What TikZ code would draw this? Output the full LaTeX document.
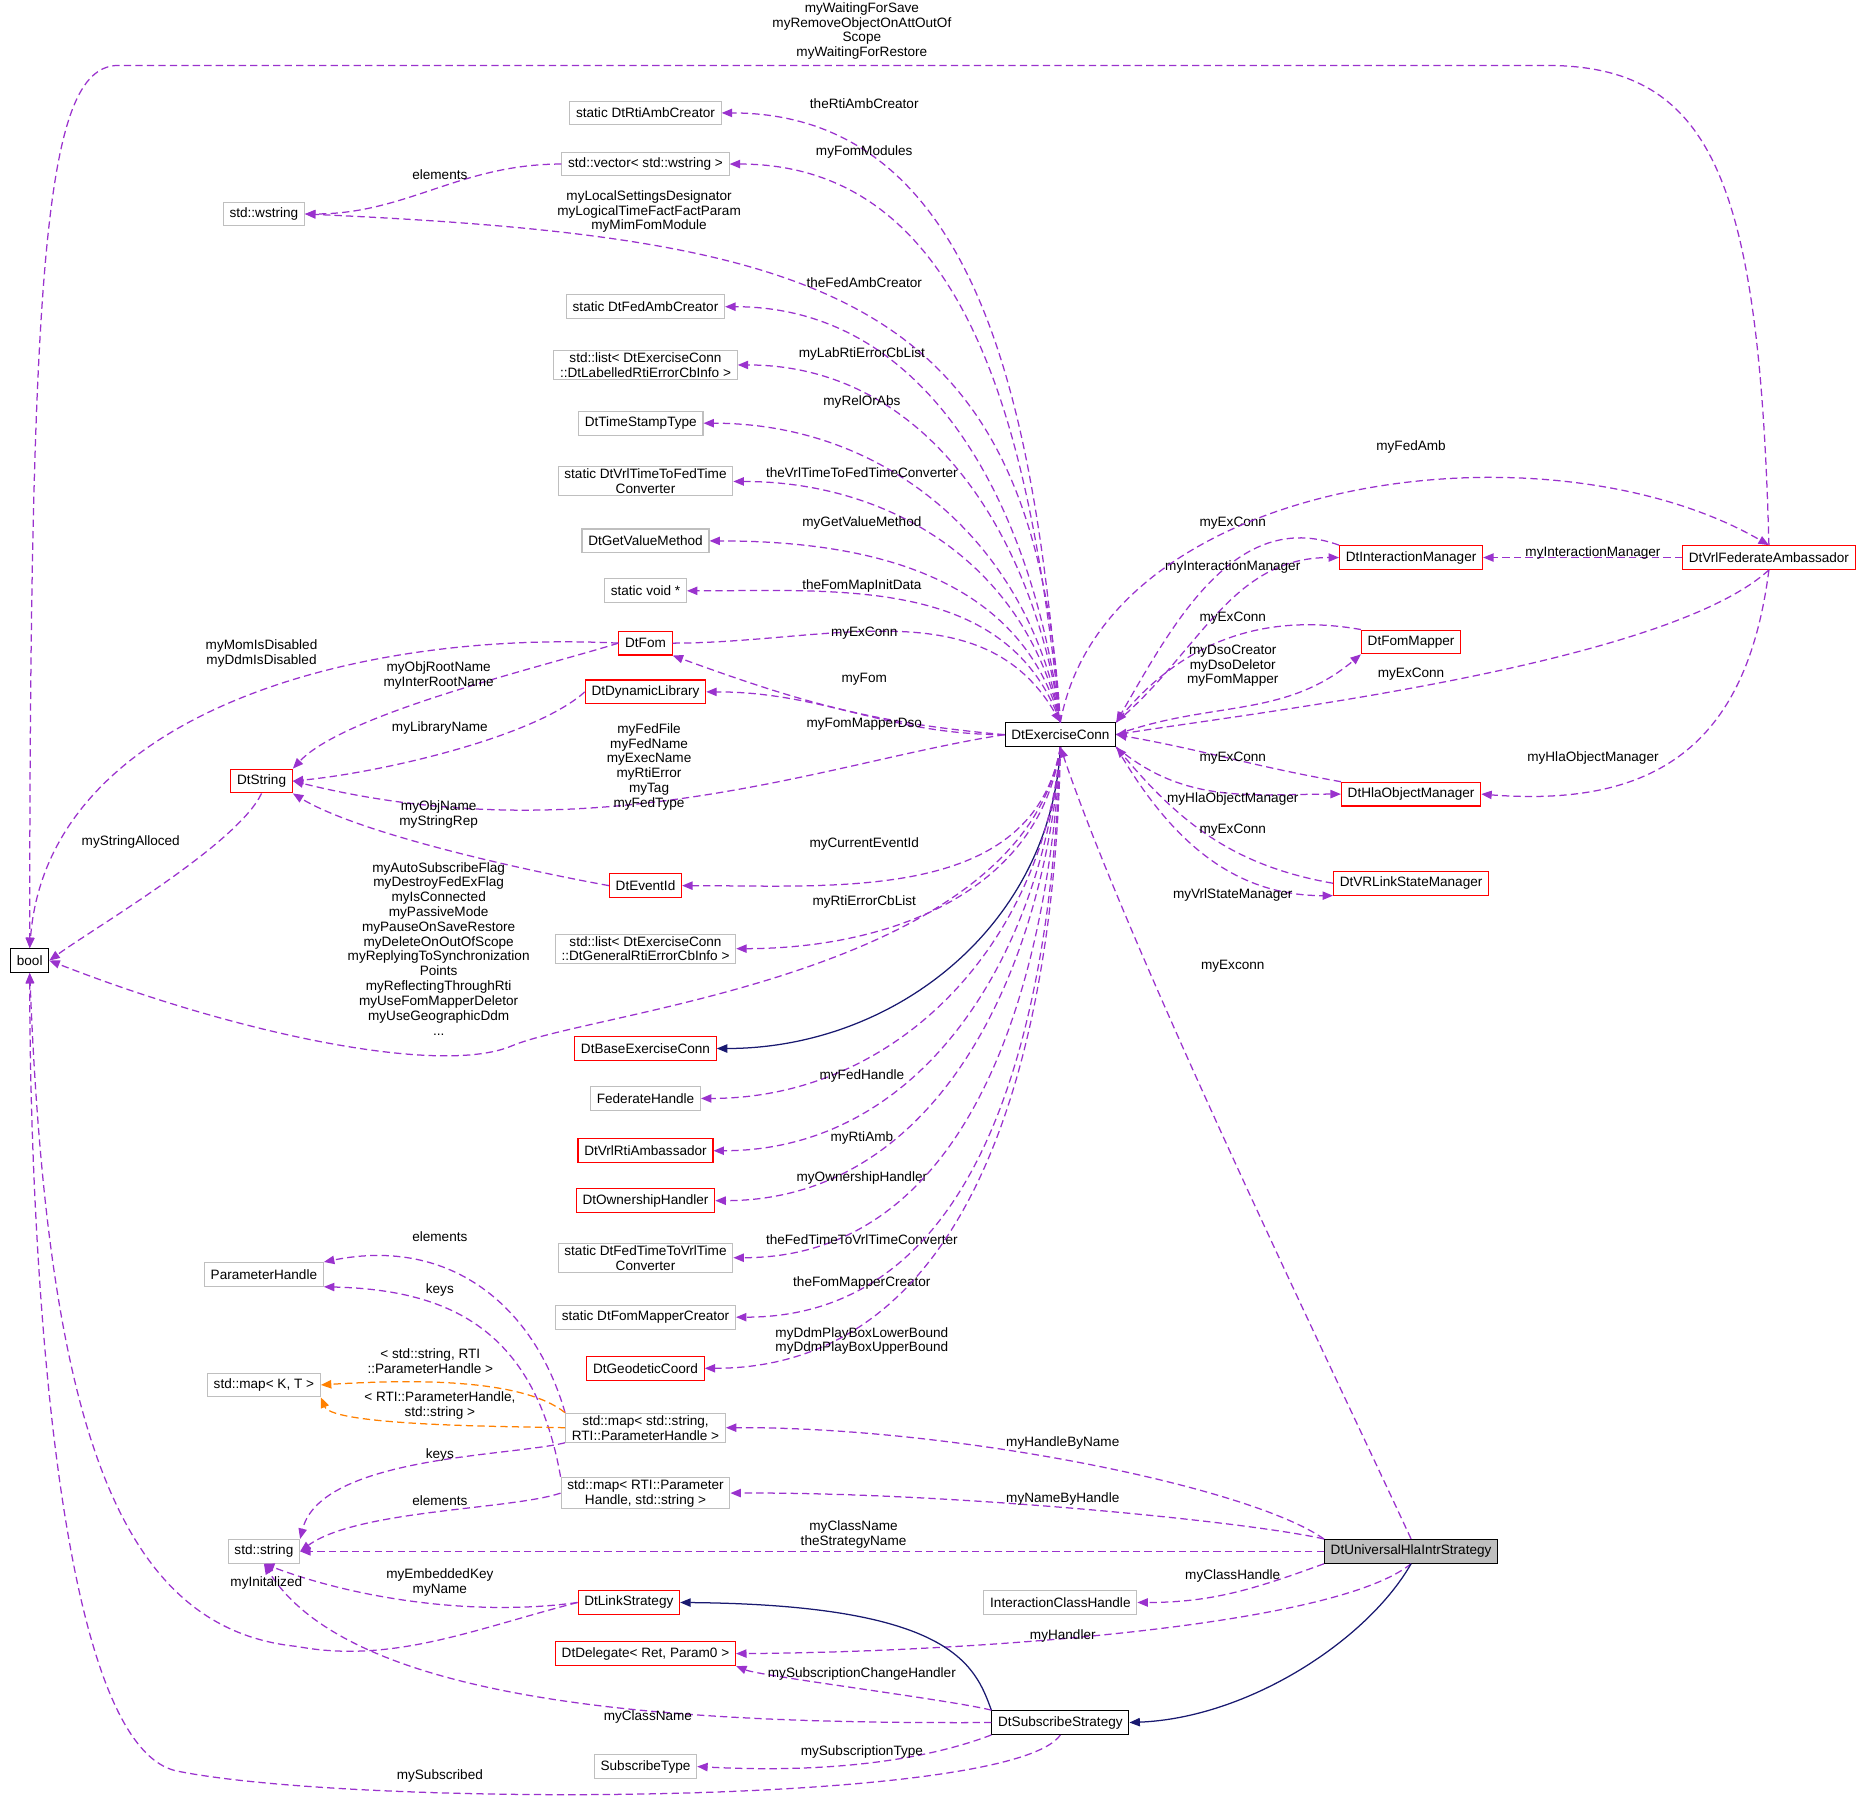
\documentclass[tikz,border=0pt]{standalone}
\usepackage{fontspec}
\setmainfont{Liberation Sans}
\usetikzlibrary{arrows.meta}
\definecolor{deppurple}{HTML}{9A32CD}
\definecolor{inhnavy}{HTML}{191970}
\definecolor{extgray}{HTML}{BFBFBF}
\tikzset{
  cls/.style={draw=black, rectangle, font=\fontsize{6.5}{7.1}\selectfont, inner xsep=3pt, inner ysep=1pt, minimum height=0.4cm, align=center, line width=0.5pt},
  ext/.style={cls, draw=extgray},
  trunc/.style={cls, draw=red},
  lbl/.style={font=\fontsize{6.5}{7.1}\selectfont, align=center, inner sep=0pt},
  dep/.style={draw=deppurple, line width=0.6pt, dash pattern=on 3.5pt off 2pt, -{Triangle[length=5pt,width=4pt]}},
  inh/.style={draw=inhnavy, line width=0.6pt, -{Triangle[length=5pt,width=4pt]}},
  tmpl/.style={draw=orange, line width=0.6pt, dash pattern=on 3.5pt off 2pt, -{Triangle[length=5pt,width=4pt]}}
}
\begin{document}
\begin{tikzpicture}[x=0.02cm, y=-0.02cm]
\useasboundingbox (0,0) rectangle (1568,1517);
% classes
\node[cls] (bool) at (25,808) {bool};
\node[ext] (rtiamb) at (543,95) {static DtRtiAmbCreator};
\node[ext] (vec) at (543,138) {std::vector< std::wstring >};
\node[ext] (wstr) at (222,180) {std::wstring};
\node[ext] (fedamb) at (543,258) {static DtFedAmbCreator};
\node[ext] (lablist) at (543,307) {std::list< DtExerciseConn\\::DtLabelledRtiErrorCbInfo >};
\node[ext] (tst) at (539,356) {DtTimeStampType};
\node[ext] (vrl2fed) at (543,405) {static DtVrlTimeToFedTime\\Converter};
\node[ext] (getval) at (543,455) {DtGetValueMethod};
\node[ext] (svoid) at (543,497) {static void *};
\node[trunc] (fom) at (543,541) {DtFom};
\node[trunc] (dynlib) at (543,582) {DtDynamicLibrary};
\node[trunc] (dtstr) at (220,657) {DtString};
\node[trunc] (evid) at (543,745) {DtEventId};
\node[ext] (genlist) at (543,798) {std::list< DtExerciseConn\\::DtGeneralRtiErrorCbInfo >};
\node[trunc] (base) at (543,882) {DtBaseExerciseConn};
\node[ext] (fedh) at (543,924) {FederateHandle};
\node[trunc] (rtiamb2) at (543,968) {DtVrlRtiAmbassador};
\node[trunc] (own) at (543,1010) {DtOwnershipHandler};
\node[ext] (fed2vrl) at (543,1058) {static DtFedTimeToVrlTime\\Converter};
\node[ext] (parh) at (222,1072) {ParameterHandle};
\node[ext] (fmcreator) at (543,1108) {static DtFomMapperCreator};
\node[trunc] (geo) at (543,1151) {DtGeodeticCoord};
\node[ext] (mapkt) at (222,1165) {std::map< K, T >};
\node[ext] (mapsp) at (543,1201) {std::map< std::string,\\RTI::ParameterHandle >};
\node[ext] (mapps) at (543,1256) {std::map< RTI::Parameter\\Handle, std::string >};
\node[ext] (str) at (222,1305) {std::string};
\node[ext] (ich) at (892,1348) {InteractionClassHandle};
\node[trunc] (link) at (529,1348) {DtLinkStrategy};
\node[trunc] (deleg) at (543,1391) {DtDelegate< Ret, Param0 >};
\node[ext] (subtype) at (543,1486) {SubscribeType};
\node[cls] (subs) at (892,1449) {DtSubscribeStrategy};
\node[cls, fill=extgray] (univ) at (1187,1305) {DtUniversalHlaIntrStrategy};
\node[cls] (ec) at (892,618) {DtExerciseConn};
\node[trunc] (im) at (1187,469) {DtInteractionManager};
\node[trunc] (fm) at (1187,540) {DtFomMapper};
\node[trunc] (hom) at (1187,668) {DtHlaObjectManager};
\node[trunc] (vsm) at (1187,743) {DtVRLinkStateManager};
\node[trunc] (vfa) at (1488,469) {DtVrlFederateAmbassador};

% DtExerciseConn members, upper part
\draw[dep] (ec.north) to[out=95,in=0] (rtiamb.east);
\node[lbl] at (727,87) {theRtiAmbCreator};
\draw[dep] (ec.north) to[out=96,in=0] (vec.east);
\node[lbl] at (727,128) {myFomModules};
\draw[dep] (vec.west) to[out=180,in=0] (wstr.east);
\node[lbl] at (370,147) {elements};
\draw[dep] (ec.north) .. controls (870,250) and (700,200) .. (wstr.east);
\node[lbl] at (546,178) {myLocalSettingsDesignator\\myLogicalTimeFactFactParam\\myMimFomModule};
\draw[dep] (ec.north) to[out=97,in=0] (fedamb.east);
\node[lbl] at (727,238) {theFedAmbCreator};
\draw[dep] (ec.north) to[out=98,in=0] (lablist.east);
\node[lbl] at (725,298) {myLabRtiErrorCbList};
\draw[dep] (ec.north) to[out=100,in=0] (tst.east);
\node[lbl] at (725,338) {myRelOrAbs};
\draw[dep] (ec.north) to[out=102,in=0] (vrl2fed.east);
\node[lbl] at (725,398) {theVrlTimeToFedTimeConverter};
\draw[dep] (ec.north) to[out=105,in=0] (getval.east);
\node[lbl] at (725,440) {myGetValueMethod};
\draw[dep] (ec.north) to[out=110,in=0] (svoid.east);
\node[lbl] at (725,493) {theFomMapInitData};
\draw[dep] (fom.east) to[out=0,in=120] (ec.north);
\node[lbl] at (727,533) {myExConn};
\draw[dep] (ec.west) to[out=175,in=-20] (fom.south east);
\node[lbl] at (727,571) {myFom};
\draw[dep] (ec.west) to[out=180,in=0] (dynlib.east);
\node[lbl] at (727,609) {myFomMapperDso};
\draw[dep] (ec.west) .. controls (700,640) and (500,720) .. (dtstr.east);
\node[lbl] at (546,645) {myFedFile\\myFedName\\myExecName\\myRtiError\\myTag\\myFedType};

% DtFom, DtString and friends
\draw[dep] (fom.west) .. controls (300,530) and (40,600) .. (bool.north);
\node[lbl] at (220,550) {myMomIsDisabled\\myDdmIsDisabled};
\draw[dep] (fom.west) .. controls (460,560) and (290,600) .. (dtstr.north east);
\node[lbl] at (369,568) {myObjRootName\\myInterRootName};
\draw[dep] (dynlib.west) .. controls (450,620) and (320,650) .. (dtstr.east);
\node[lbl] at (370,612) {myLibraryName};
\draw[dep] (dtstr.south) .. controls (200,710) and (80,780) .. (bool.east);
\node[lbl] at (110,708) {myStringAlloced};
\draw[dep] (evid.west) .. controls (430,730) and (300,700) .. (dtstr.south east);
\node[lbl] at (369,685) {myObjName\\myStringRep};

% DtExerciseConn members, lower part
\draw[dep] (ec.south) to[out=-100,in=0] (evid.east);
\node[lbl] at (727,710) {myCurrentEventId};
\draw[dep] (ec.south) to[out=-98,in=0] (genlist.east);
\node[lbl] at (727,759) {myRtiErrorCbList};
\draw[dep] (ec.south) .. controls (860,820) and (500,850) .. (430,880) .. controls (370,905) and (200,870) .. (bool.east);
\node[lbl] at (369,798) {myAutoSubscribeFlag\\myDestroyFedExFlag\\myIsConnected\\myPassiveMode\\myPauseOnSaveRestore\\myDeleteOnOutOfScope\\myReplyingToSynchronization\\Points\\myReflectingThroughRti\\myUseFomMapperDeletor\\myUseGeographicDdm\\...};
\draw[inh] (ec.south) to[out=-93,in=0] (base.east);
\draw[dep] (ec.south) to[out=-95,in=0] (fedh.east);
\node[lbl] at (725,905) {myFedHandle};
\draw[dep] (ec.south) to[out=-95,in=0] (rtiamb2.east);
\node[lbl] at (725,957) {myRtiAmb};
\draw[dep] (ec.south) to[out=-94,in=0] (own.east);
\node[lbl] at (725,991) {myOwnershipHandler};
\draw[dep] (ec.south) to[out=-93,in=0] (fed2vrl.east);
\node[lbl] at (725,1043) {theFedTimeToVrlTimeConverter};
\draw[dep] (ec.south) to[out=-92,in=0] (fmcreator.east);
\node[lbl] at (725,1079) {theFomMapperCreator};
\draw[dep] (ec.south) to[out=-91,in=0] (geo.east);
\node[lbl] at (725,1128) {myDdmPlayBoxLowerBound\\myDdmPlayBoxUpperBound};

% managers on the right
\draw[dep] (im.north west) to[out=160,in=60] (ec.north east);
\node[lbl] at (1037,440) {myExConn};
\draw[dep] (ec.north east) to[out=40,in=180] (im.west);
\node[lbl] at (1037,477) {myInteractionManager};
\draw[dep] (fm.north west) to[out=170,in=50] (ec.north east);
\node[lbl] at (1037,520) {myExConn};
\draw[dep] (ec.east) to[out=20,in=-140] (fm.south west);
\node[lbl] at (1037,560) {myDsoCreator\\myDsoDeletor\\myFomMapper};
\draw[dep] (hom.north west) to[out=170,in=-10] (ec.east);
\node[lbl] at (1037,638) {myExConn};
\draw[dep] (ec.south east) to[out=-40,in=180] (hom.west);
\node[lbl] at (1037,672) {myHlaObjectManager};
\draw[dep] (vsm.west) to[out=170,in=-50] (ec.south east);
\node[lbl] at (1037,698) {myExConn};
\draw[dep] (ec.south east) to[out=-60,in=180] (vsm.south west);
\node[lbl] at (1037,753) {myVrlStateManager};
\draw[dep] (ec.north) .. controls (930,400) and (1300,350) .. (vfa.north);
\node[lbl] at (1187,376) {myFedAmb};
\draw[dep] (vfa.south) .. controls (1400,560) and (1050,600) .. (ec.east);
\node[lbl] at (1187,567) {myExConn};
\draw[dep] (vfa.west) to (im.east);
\node[lbl] at (1340,465) {myInteractionManager};
\draw[dep] (vfa.south) .. controls (1470,620) and (1400,680) .. (hom.east);
\node[lbl] at (1340,638) {myHlaObjectManager};
\draw[dep] (vfa.north) .. controls (1480,150) and (1440,55) .. (1300,55) -- (100,55) .. controls (40,55) and (25,200) .. (bool.north);
\node[lbl] at (725,26) {myWaitingForSave\\myRemoveObjectOnAttOutOf\\Scope\\myWaitingForRestore};

% strategies
\draw[dep] (univ.north) .. controls (1120,1150) and (950,800) .. (ec.south);
\node[lbl] at (1037,813) {myExconn};
\draw[dep] (univ.north west) .. controls (1050,1250) and (800,1200) .. (mapsp.east);
\node[lbl] at (894,1214) {myHandleByName};
\draw[dep] (univ.north west) .. controls (1050,1280) and (800,1255) .. (mapps.east);
\node[lbl] at (894,1261) {myNameByHandle};
\draw[dep] (univ.west) -- (str.east);
\node[lbl] at (718,1291) {myClassName\\theStrategyName};
\draw[dep] (univ.south west) to[out=-160,in=0] (ich.east);
\node[lbl] at (1037,1326) {myClassHandle};
\draw[dep] (univ.south) .. controls (1120,1370) and (800,1390) .. (deleg.east);
\node[lbl] at (894,1376) {myHandler};
\draw[inh] (univ.south) .. controls (1150,1380) and (1050,1445) .. (subs.east);
\draw[inh] (subs.north west) .. controls (820,1400) and (800,1350) .. (link.east);
\draw[dep] (subs.north west) .. controls (800,1430) and (640,1410) .. (deleg.south east);
\node[lbl] at (725,1408) {mySubscriptionChangeHandler};
\draw[dep] (subs.west) .. controls (600,1450) and (300,1440) .. (str.south);
\node[lbl] at (545,1444) {myClassName};
\draw[dep] (subs.south west) .. controls (780,1480) and (700,1492) .. (subtype.east);
\node[lbl] at (725,1474) {mySubscriptionType};
\draw[dep] (subs.south) .. controls (850,1520) and (300,1520) .. (150,1490) .. controls (40,1470) and (25,1000) .. (bool.south);
\node[lbl] at (370,1494) {mySubscribed};
\draw[dep] (link.west) .. controls (400,1360) and (300,1345) .. (str.south);
\node[lbl] at (370,1331) {myEmbeddedKey\\myName};
\draw[dep] (link.west) .. controls (400,1370) and (330,1400) .. (250,1385) .. controls (100,1370) and (40,1200) .. (bool.south);
\node[lbl] at (224,1332) {myInitalized};

% maps
\draw[dep] (mapsp.north west) .. controls (450,1100) and (380,1040) .. (parh.north east);
\node[lbl] at (370,1040) {elements};
\draw[dep] (mapps.north west) .. controls (450,1120) and (380,1085) .. (parh.south east);
\node[lbl] at (370,1085) {keys};
\draw[tmpl] (mapsp.north west) .. controls (440,1160) and (350,1160) .. (mapkt.east);
\node[lbl] at (362,1145) {< std::string, RTI\\::ParameterHandle >};
\draw[tmpl] (mapsp.west) .. controls (440,1200) and (280,1200) .. (mapkt.south east);
\node[lbl] at (370,1182) {< RTI::ParameterHandle,\\std::string >};
\draw[dep] (mapsp.south west) .. controls (430,1225) and (270,1225) .. (str.north east);
\node[lbl] at (370,1224) {keys};
\draw[dep] (mapps.west) .. controls (430,1270) and (300,1270) .. (str.east);
\node[lbl] at (370,1262) {elements};
\end{tikzpicture}
\end{document}
